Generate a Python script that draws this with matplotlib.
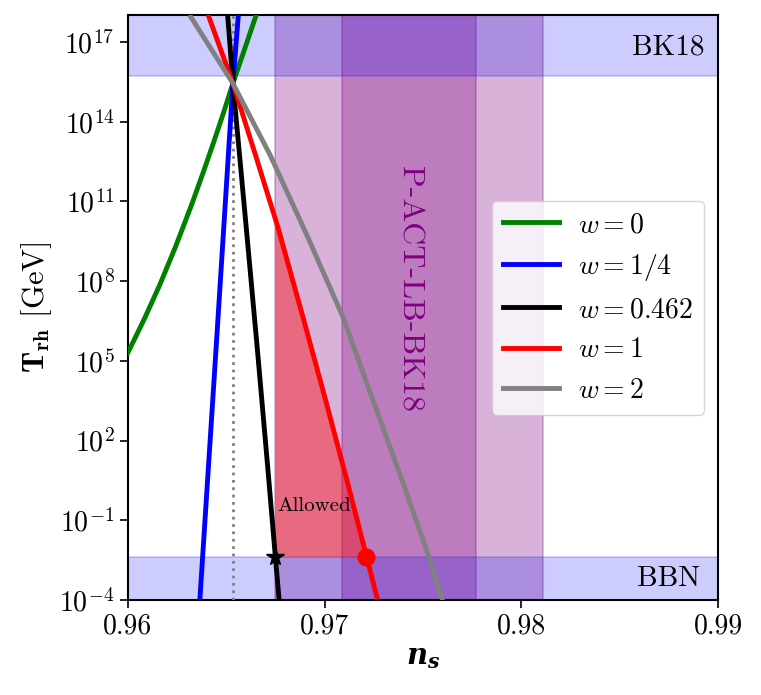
import numpy as np
import matplotlib
matplotlib.use("Agg")
import matplotlib.pyplot as plt
from matplotlib.ticker import NullLocator, LogFormatterSciNotation

plt.rcParams['font.family'] = 'serif'
plt.rcParams['font.serif'] = ['cmr10']
plt.rcParams['mathtext.fontset'] = 'cm'
plt.rcParams['mathtext.bfit'] = 'DejaVu Serif:italic:bold'
plt.rcParams['axes.formatter.use_mathtext'] = True

# curves: n_s and log10(T_rh / GeV)
ns_w0 = [0.96000, 0.96086, 0.96163, 0.96244, 0.96325, 0.96386, 0.96437, 0.96488, 0.96534, 0.96590, 0.96651]
lT_w0 = [5.30, 6.61, 7.87, 9.32, 10.89, 12.15, 13.24, 14.37, 15.44, 16.65, 17.98]

ns_w14 = [0.96366, 0.96451, 0.96534, 0.96561]
lT_w14 = [-4.00, 5.75, 15.44, 17.94]

ns_w0462 = [0.96508, 0.96534, 0.96605, 0.96659, 0.96711, 0.96750, 0.96769]
lT_w0462 = [17.94, 15.44, 9.76, 5.38, 1.00, -2.39, -4.00]

ns_w1 = [0.96412, 0.96534, 0.96651, 0.96763, 0.96891, 0.97006, 0.97118, 0.97214, 0.97266]
lT_w1 = [17.94, 15.44, 12.69, 10.02, 6.62, 3.50, 0.38, -2.38, -3.89]

ns_w2 = [0.96320, 0.96534, 0.96722, 0.96909, 0.97095, 0.97247, 0.97400, 0.97519, 0.97599]
lT_w2 = [17.94, 15.44, 12.76, 9.75, 6.62, 3.50, 0.38, -2.13, -4.00]

curves = [(ns_w0, lT_w0, 'green', r'$w=0$'),
          (ns_w14, lT_w14, 'blue', r'$w=1/4$'),
          (ns_w0462, lT_w0462, 'black', r'$w=0.462$'),
          (ns_w1, lT_w1, 'red', r'$w=1$'),
          (ns_w2, lT_w2, 'gray', r'$w=2$')]

# P-ACT-LB-BK18: n_s = 0.9743 +- 0.0034
ns_mean = 0.9743
ns_sigma = 0.0034
ns_dotted = 0.96532
T_bbn = 4e-3
T_bk18 = 10**15.7
T_top = 1e18
T_bottom = 1e-4
star_ns = 0.9675
dot_ns = 0.9721

fig, ax = plt.subplots(figsize=(7.61, 6.95), dpi=100)
fig.subplots_adjust(left=0.168, right=0.9435, top=0.978, bottom=0.1367)

# bands
for k in [2, 1]:
    ax.axvspan(ns_mean - k*ns_sigma, ns_mean + k*ns_sigma, color='purple', alpha=0.3, lw=1.2, zorder=1)
ax.axhspan(T_bk18, T_top, color='blue', alpha=0.2, lw=1.2, zorder=1)
ax.axhspan(T_bottom, T_bbn, color='blue', alpha=0.2, lw=1.2, zorder=1)

# allowed region: right of the 2 sigma edge, left of the w=1 curve, above BBN
ns_red = np.array(ns_w1)
lT_red = np.array(lT_w1)
x_edge = ns_mean - 2*ns_sigma
lT_edge = np.interp(x_edge, ns_red, lT_red)
lT_low = np.log10(T_bbn)
x_low = np.interp(lT_low, lT_red[::-1], ns_red[::-1])
mask = (ns_red > x_edge) & (lT_red > lT_low)
fx = [x_edge, x_edge] + list(ns_red[mask]) + [x_low]
fy = [T_bbn, 10**lT_edge] + list(10**lT_red[mask]) + [T_bbn]
ax.fill(fx, fy, color='red', alpha=0.4, lw=0, zorder=2)

ax.axvline(ns_dotted, color='gray', ls=':', lw=2, zorder=3)

for ns, lT, c, lab in curves:
    ax.plot(ns, 10**np.array(lT), color=c, lw=3.5, label=lab, zorder=4)

ax.plot(star_ns, T_bbn, marker='*', color='black', ms=13, zorder=5)
ax.plot(dot_ns, T_bbn, marker='o', color='red', ms=12, zorder=5)

ax.text(0.9893, 10**16.8, 'BK18', ha='right', va='center', fontsize=21)
ax.text(0.9891, 10**-3.2, 'BBN', ha='right', va='center', fontsize=21)
ax.text(ns_mean, 10**7.7, 'P-ACT-LB-BK18', rotation=270, color='purple',
        ha='center', va='center', fontsize=23)
ax.text(0.96760, 10**-0.45, 'Allowed', ha='left', va='center', fontsize=15)

ax.set_yscale('log')
ax.set_xlim(0.96, 0.99)
ax.set_ylim(T_bottom, T_top)
ax.set_xticks([0.96, 0.97, 0.98, 0.99])
ax.set_xticklabels(['0.96', '0.97', '0.98', '0.99'])
ax.set_yticks([10.0**e for e in range(-4, 18, 3)])
ax.yaxis.set_major_formatter(LogFormatterSciNotation())
ax.yaxis.set_minor_locator(NullLocator())
ax.tick_params(labelsize=20, length=6, width=1.2, direction='out')
for s in ax.spines.values():
    s.set_linewidth(1.5)

ax.set_xlabel(r'$\mathbfit{n_s}$', fontsize=21, math_fontfamily='custom')
ax.set_ylabel(r'$\mathbf{T_{rh}}$ [GeV]', fontsize=22)

ax.legend(loc='center right', fontsize=20, handlelength=2.0, handletextpad=0.7)

plt.savefig('out.png', dpi=100)
